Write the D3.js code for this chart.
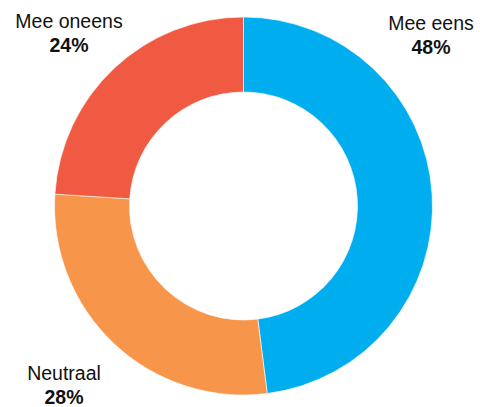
<!DOCTYPE html>
<html><head><meta charset="utf-8">
<script src="https://cdn.jsdelivr.net/npm/d3@7"></script>
<style>html,body{margin:0;padding:0;background:#fff;}svg{display:block;}</style>
</head><body>
<svg id="chart" width="480" height="407"></svg>
<script>
const categories = ["Mee eens", "Neutraal", "Mee oneens"];
const values = [48, 28, 24];
const valueLabels = ["48%", "28%", "24%"];
const colors = ["#00AEEF", "#F7964A", "#F15A42"];
const labelPos = [[431, 30], [64, 380], [69, 28]];

const svg = d3.select("#chart");
const cx = 243.5, cy = 206, rOuter = 189, rInner = 114;
const pie = d3.pie().sort(null).value(d => d)(values);
const arc = d3.arc().innerRadius(rInner).outerRadius(rOuter);
const g = svg.append("g").attr("transform", `translate(${cx},${cy})`);
g.selectAll("path").data(pie).join("path")
  .attr("d", arc)
  .attr("fill", (d, i) => colors[i])
  .attr("stroke", "#fff").attr("stroke-width", 0.6);

const lab = svg.append("g").attr("font-family", "Liberation Sans, Arial, sans-serif").attr("fill", "#111");
categories.forEach((c, i) => {
  const t = lab.append("text").attr("x", labelPos[i][0]).attr("y", labelPos[i][1])
    .attr("text-anchor", "middle").attr("font-size", 19.5);
  t.append("tspan").text(c);
  t.append("tspan").attr("x", labelPos[i][0]).attr("dy", 23.5).attr("font-weight", "bold").text(valueLabels[i]);
});
</script>
</body></html>
